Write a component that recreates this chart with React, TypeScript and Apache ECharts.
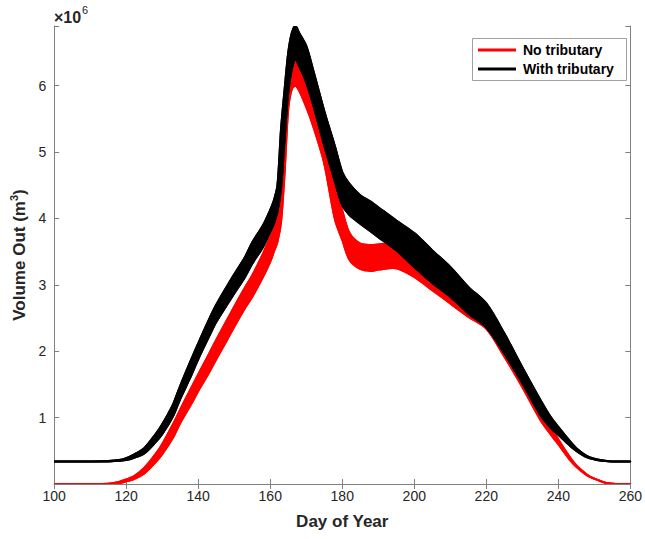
import React, { useEffect, useRef } from "react";
import * as echarts from "echarts";

// Day of year at which envelope values were read
const DAYS = [100,105,110,115,118,120,122,125,128,130,133,135,138,140,143,145,148,150,153,155,158,160,161,162,163,164,165,166,167,168,170,172,175,178,180,182,185,188,190,195,200,205,210,215,220,225,230,235,238,240,243,245,248,250,253,255,258,260];

// With tributary (×10^6 m³): lower / upper edge of the daily oscillation band
const WITH_LO = [.34,.34,.34,.34,.35,.36,.39,.46,.62,.75,1.02,1.28,1.63,1.88,2.22,2.44,2.70,2.87,3.12,3.32,3.57,3.80,3.92,4.10,4.45,5.20,5.90,6.25,6.40,6.30,6.05,5.70,5.10,4.55,4.20,4.05,3.92,3.80,3.72,3.52,3.27,3.03,2.82,2.57,2.36,1.97,1.52,1.04,.84,.74,.59,.50,.40,.37,.345,.34,.34,.34];
const WITH_HI = [.34,.34,.34,.345,.36,.39,.44,.54,.74,.90,1.20,1.48,1.87,2.12,2.48,2.70,2.98,3.16,3.42,3.64,3.90,4.13,4.27,4.50,5.35,5.95,6.50,6.80,6.90,6.80,6.60,6.22,5.62,5.08,4.70,4.52,4.35,4.25,4.17,3.97,3.78,3.52,3.27,2.97,2.72,2.27,1.76,1.27,1.00,.86,.66,.54,.42,.38,.35,.34,.34,.34];

// No tributary (×10^6 m³)
const NO_LO = [0,0,0,0,.01,.04,.07,.16,.32,.45,.70,.92,1.20,1.40,1.68,1.88,2.17,2.37,2.65,2.82,3.12,3.35,3.50,3.65,3.95,4.70,5.65,5.95,6.00,5.93,5.68,5.38,4.83,3.98,3.68,3.38,3.24,3.21,3.23,3.25,3.12,2.92,2.72,2.52,2.34,1.92,1.46,.97,.74,.60,.38,.26,.13,.08,.02,.005,0,0];
const NO_HI = [0,0,0,.005,.03,.07,.11,.24,.44,.60,.90,1.12,1.44,1.65,1.96,2.17,2.47,2.67,2.96,3.14,3.47,3.72,3.85,4.02,4.45,5.45,6.10,6.40,6.43,6.30,6.05,5.78,5.29,4.50,4.12,3.78,3.62,3.60,3.61,3.63,3.52,3.33,3.12,2.88,2.62,2.17,1.67,1.16,.87,.67,.42,.28,.14,.08,.02,.005,0,0];

const X_TICKS = [100, 260, 20]; // min, max, interval
const Y_MAX = 6.9;

const FONT = "Liberation Sans, Arial, Helvetica, sans-serif";
const AXIS_GRAY = "#808080";
const TEXT = "#262626";

function bandSeries(name: string, lo: number[], hi: number[], color: string, z: number) {
  return {
    type: "custom",
    name,
    z,
    silent: true,
    clip: true,
    data: [[DAYS[0], lo[0]]],
    encode: { x: 0, y: 1 },
    renderItem: (params: any, api: any) => {
      const top: number[][] = [];
      const bot: number[][] = [];
      for (let i = 0; i < DAYS.length; i++) top.push(api.coord([DAYS[i], hi[i]]));
      for (let i = DAYS.length - 1; i >= 0; i--) bot.push(api.coord([DAYS[i], lo[i]]));
      return {
        type: "group",
        children: [
          {
            type: "polygon",
            shape: { points: top.concat(bot), smooth: 0.3 },
            style: { fill: color, stroke: color, lineWidth: 2, lineJoin: "round" },
          },
          {
            type: "polyline",
            shape: { points: top, smooth: 0.3 },
            style: { fill: "none", stroke: color, lineWidth: 2, lineJoin: "round" },
          },
          {
            type: "polyline",
            shape: { points: bot, smooth: 0.3 },
            style: { fill: "none", stroke: color, lineWidth: 2, lineJoin: "round" },
          },
        ],
      };
    },
  };
}

export default function App() {
  const ref = useRef<HTMLDivElement>(null);
  useEffect(() => {
    const chart = echarts.init(ref.current!, null, { renderer: "svg" });
    const axisCommon = {
      type: "value" as const,
      axisLine: { show: true, lineStyle: { color: AXIS_GRAY, width: 1 } },
      axisTick: { show: true, inside: true, length: 5, lineStyle: { color: AXIS_GRAY } },
      splitLine: { show: false },
    };
    chart.setOption({
      animation: false,
      backgroundColor: "#ffffff",
      textStyle: { fontFamily: FONT },
      grid: { left: 52, top: 26, width: 579, height: 458, containLabel: false },
      xAxis: [
        {
          ...axisCommon,
          position: "bottom",
          min: X_TICKS[0],
          max: X_TICKS[1],
          interval: X_TICKS[2],
          axisLabel: { fontSize: 14, color: TEXT, margin: 5, fontFamily: FONT },
          name: "Day of Year",
          nameLocation: "middle",
          nameGap: 29,
          nameTextStyle: { fontSize: 17, fontWeight: "bold", color: TEXT, fontFamily: FONT },
        },
        {
          ...axisCommon,
          position: "top",
          min: X_TICKS[0],
          max: X_TICKS[1],
          interval: X_TICKS[2],
          axisLabel: { show: false },
        },
      ],
      yAxis: [
        {
          ...axisCommon,
          position: "left",
          min: 0,
          max: Y_MAX,
          interval: 1,
          axisLabel: {
            fontSize: 14,
            color: TEXT,
            margin: 8,
            fontFamily: FONT,
            formatter: (v: number) =>
              v > 0 && Math.abs(v - Math.round(v)) < 1e-6 ? String(Math.round(v)) : "",
          },
          name: "{a|Volume Out (m}{s|3}{a|)}",
          nameLocation: "middle",
          nameGap: 15,
          nameRotate: 90,
          nameTextStyle: {
            rich: {
              a: { fontSize: 17, fontWeight: "bold", color: TEXT, fontFamily: FONT, lineHeight: 22 },
              s: { fontSize: 11, fontWeight: "bold", color: TEXT, fontFamily: FONT, lineHeight: 22, verticalAlign: "top" },
            },
          },
        },
        {
          ...axisCommon,
          position: "right",
          min: 0,
          max: Y_MAX,
          interval: 1,
          axisLabel: { show: false },
        },
      ],
      series: [
        bandSeries("No tributary", NO_LO, NO_HI, "#ff0000", 2),
        bandSeries("With tributary", WITH_LO, WITH_HI, "#000000", 3),
      ],
      graphic: [
        { type: "text", x: 54, y: 9, style: { text: "×10", fontSize: 16, fontWeight: "bold", fontFamily: FONT, fill: TEXT } },
        { type: "text", x: 82, y: 4, style: { text: "6", fontSize: 11, fontFamily: FONT, fill: TEXT } },
        {
          type: "rect",
          shape: { x: 472.5, y: 38.5, width: 154, height: 42 },
          style: { fill: "#ffffff", stroke: "#a0a0a0", lineWidth: 1 },
          z: 10,
        },
        { type: "line", shape: { x1: 478, y1: 50, x2: 516, y2: 50 }, style: { stroke: "#ff0000", lineWidth: 3 }, z: 11 },
        { type: "line", shape: { x1: 478, y1: 69, x2: 516, y2: 69 }, style: { stroke: "#000000", lineWidth: 3 }, z: 11 },
        {
          type: "text", x: 523, y: 50, z: 11,
          style: { text: "No tributary", fontSize: 14, fontWeight: "bold", fontFamily: FONT, fill: "#000", verticalAlign: "middle" },
        },
        {
          type: "text", x: 523, y: 69, z: 11,
          style: { text: "With tributary", fontSize: 14, fontWeight: "bold", fontFamily: FONT, fill: "#000", verticalAlign: "middle" },
        },
      ],
    });
    return () => chart.dispose();
  }, []);
  return (
    <div
      ref={ref}
      style={{ position: "fixed", left: 0, top: 0, width: 645, height: 539, background: "#fff" }}
    />
  );
}
